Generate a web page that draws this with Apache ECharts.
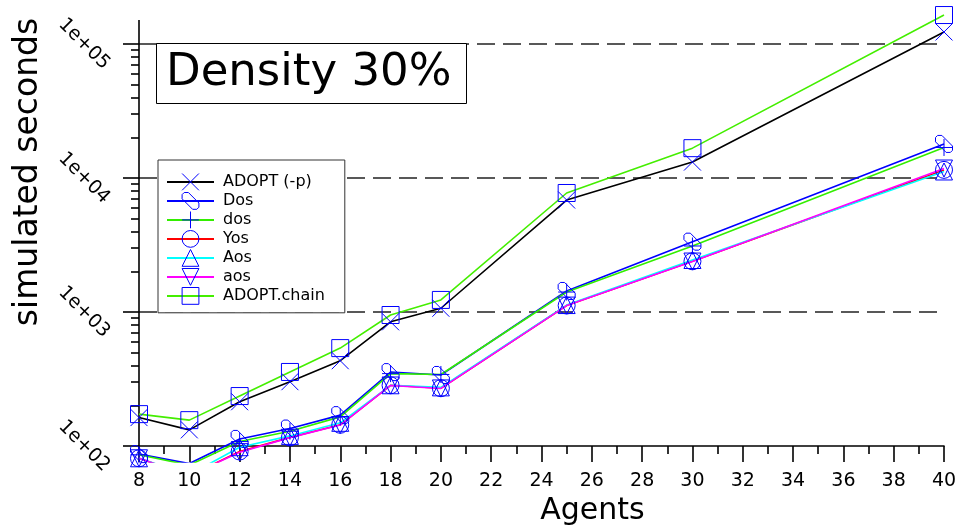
<!DOCTYPE html>
<html><head><meta charset="utf-8">
<script src="https://cdn.jsdelivr.net/npm/echarts@6/dist/echarts.min.js"></script>
<style>html,body{margin:0;padding:0;background:#fff}#c{width:958px;height:525px}</style>
</head><body><div id="c"></div>
<script>
// ---- data ----
const agents = [8, 10, 12, 14, 16, 18, 20, 25, 30, 40];
const seriesNames = ['ADOPT (-p)', 'Dos', 'dos', 'Yos', 'Aos', 'aos', 'ADOPT.chain'];
const adoptP     = [163, 132, 214, 302, 433, 845, 1067, 6850, 13150, 123000];
const dosUpper   = [87, 74, 113, 135, 170, 356, 339, 1436, 3350, 17960];
const dosLower   = [86, 72, 108, 129, 165, 347, 342, 1410, 3110, 16900];
const yosVals    = [81, 60, 91, 116, 144, 284, 270, 1118, 2390, 11500];
const aosUpper   = [81, 61, 98, 119, 149, 284, 274, 1127, 2444, 11190];
const aosLower   = [81, 60, 90, 115.5, 143.5, 283, 269, 1117, 2381, 11770];
const adoptChain = [173, 156, 236, 357, 538, 950, 1231, 7730, 16700, 164500];
const yDecades = [100, 1000, 10000, 100000];
const yGridValues = [1000, 10000, 100000];
const yMinor = [200, 300, 400, 500, 600, 700, 800, 900,
                2000, 3000, 4000, 5000, 6000, 7000, 8000, 9000,
                20000, 30000, 40000, 50000, 60000, 70000, 80000, 90000];
const yMin = 76, yMax = 213000, yAxisTop = 151000, yAxisBottom = 100;
const xMin = 8, xMax = 40, xInterval = 2;

// ---- style ----
const FONT = 'DejaVu Sans';
const MARK = '#0000ff';
const symbols = {
  x: 'path://M0,0L16,16M16,0L0,16',
  dos: 'path://M2,0L6,0L16,10L16,14L14,16L10,16L0,6L0,2Z',
  plus: 'path://M8,0L8,16M0,8L16,8'
};
const defs = [
  {name: seriesNames[0], data: adoptP,     color: '#000000', symbol: symbols.x},
  {name: seriesNames[1], data: dosUpper,   color: '#0000ff', symbol: symbols.dos},
  {name: seriesNames[2], data: dosLower,   color: '#33ee00', symbol: symbols.plus},
  {name: seriesNames[3], data: yosVals,    color: '#ff0000', symbol: 'circle'},
  {name: seriesNames[4], data: aosUpper,   color: '#00ffff', symbol: 'triangle'},
  {name: seriesNames[5], data: aosLower,   color: '#ff00ff', symbol: 'triangle', rotate: 180},
  {name: seriesNames[6], data: adoptChain, color: '#44ee00', symbol: 'rect'}
];

const series = defs.map((d, idx) => {
  const s = {
    name: d.name, type: 'line', clip: true,
    data: agents.map((a, i) => [a, d.data[i]]),
    symbol: d.symbol, symbolSize: 17, symbolRotate: d.rotate || 0,
    lineStyle: {color: d.color, width: 1.6},
    itemStyle: {color: 'rgba(0,0,0,0)', borderColor: MARK, borderWidth: 1},
    emphasis: {disabled: true},
    animation: false
  };
  if (idx === 0) {
    s.markLine = {
      silent: true, symbol: 'none', animation: false, label: {show: false}, z: 1,
      emphasis: {disabled: true},
      data: yGridValues.map(v => ({yAxis: v, lineStyle: {type: [18, 8], color: '#222', width: 1.6}}))
        .concat([[{coord: [xMin, yAxisBottom], lineStyle: {type: 'solid', color: '#000', width: 1.6}},
                  {coord: [xMin, yAxisTop]}]])
    };
  }
  return s;
});

const fmt = v => '1e+' + String(Math.round(Math.log10(v))).padStart(2, '0');

const chart = echarts.init(document.getElementById('c'), null, {renderer: 'canvas'});
chart.setOption({
  animation: false,
  backgroundColor: '#fff',
  textStyle: {fontFamily: FONT},
  title: {
    text: 'Density 30%', left: 156, top: 43, padding: [8, 15, 8, 10], z: 20,
    borderColor: '#000', borderWidth: 1, backgroundColor: '#fff',
    textStyle: {fontSize: 45, fontWeight: 'normal', fontFamily: FONT, color: '#000'}
  },
  legend: {
    orient: 'vertical', left: 158, top: 160, padding: [13, 20, 8, 8], z: 20,
    itemWidth: 47, itemHeight: 21, itemGap: 1.2,
    backgroundColor: '#fff', borderColor: '#333', borderWidth: 1,
    itemStyle: {color: 'rgba(0,0,0,0)', borderColor: MARK, borderWidth: 1},
    textStyle: {fontSize: 16, fontFamily: FONT, color: '#000', padding: [0, 0, 0, 4]},
    data: seriesNames
  },
  grid: {left: 139, right: 14, top: 0, bottom: 63, containLabel: false, outerBoundsMode: 'none'},
  xAxis: {
    type: 'value', min: xMin, max: xMax, interval: xInterval, offset: -16,
    axisLine: {show: true, lineStyle: {color: '#000', width: 1.6}},
    axisTick: {show: true, length: 16, lineStyle: {color: '#000', width: 1.6}},
    minorTick: {show: true, splitNumber: 2, length: 8, lineStyle: {color: '#000', width: 1.6}},
    splitLine: {show: false}, minorSplitLine: {show: false},
    axisLabel: {fontSize: 19, margin: 26, color: '#000', fontFamily: FONT},
    name: 'Agents', nameLocation: 'middle', nameGap: 42,
    nameTextStyle: {fontSize: 30, color: '#000', fontFamily: FONT, padding: [0, 0, 0, 102]}
  },
  yAxis: [{
    type: 'log', logBase: 10, min: yMin, max: yMax,
    axisLine: {show: false},
    axisTick: {show: true, customValues: yDecades, length: 16, lineStyle: {color: '#000', width: 1.6}},
    axisLabel: {customValues: yDecades, formatter: fmt, rotate: -45, align: 'center',
                verticalAlign: 'middle', margin: 55, fontSize: 19, color: '#000', fontFamily: FONT},
    splitLine: {show: false},
    name: 'simulated seconds', nameLocation: 'middle', nameGap: 94,
    nameTextStyle: {fontSize: 33, color: '#000', fontFamily: FONT, padding: [0, 0, 0, 118]}
  }, {
    type: 'log', logBase: 10, min: yMin, max: yMax, position: 'left',
    axisLine: {show: false},
    axisTick: {show: true, customValues: yMinor, length: 8, lineStyle: {color: '#000', width: 1.6}},
    axisLabel: {show: false}, splitLine: {show: false}
  }],
  series: series
});
</script>
</body></html>
